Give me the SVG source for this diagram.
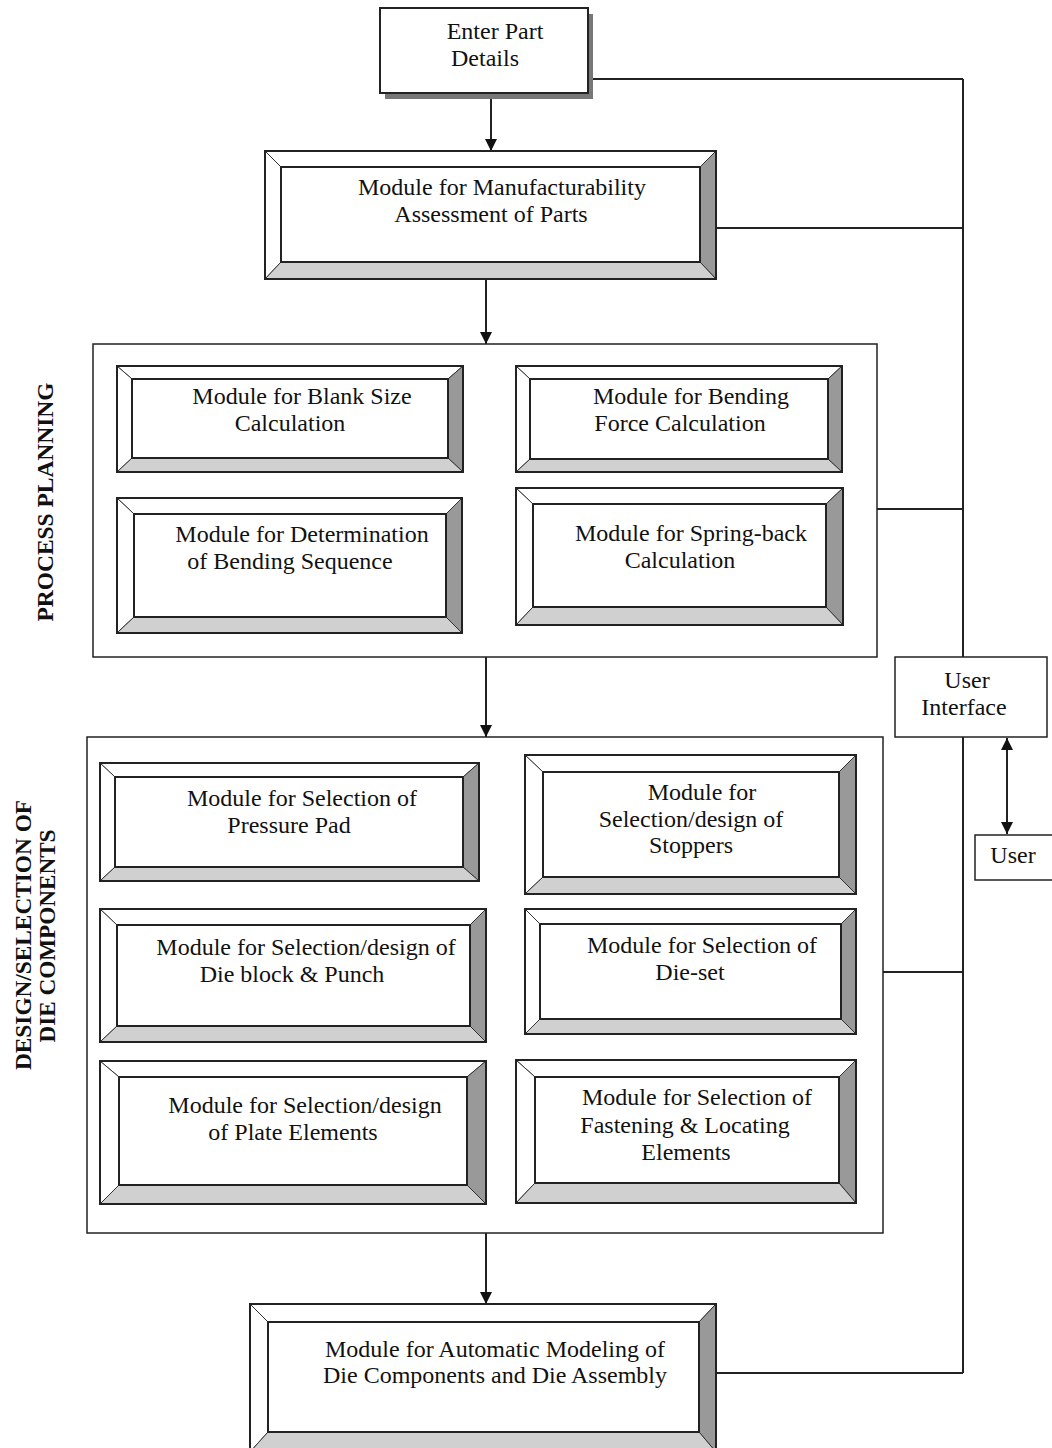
<svg xmlns="http://www.w3.org/2000/svg" width="1052" height="1448" viewBox="0 0 1052 1448">
<style>
.t{font-family:"Liberation Serif","Times New Roman",serif;font-size:24px;fill:#111;text-anchor:middle}
.v{font-family:"Liberation Serif","Times New Roman",serif;font-size:24px;font-weight:bold;fill:#111;text-anchor:middle}
.bt{fill:#fff;stroke:#333;stroke-width:1}
.br{fill:#999;stroke:#333;stroke-width:1}
.bb{fill:#d0d0d0;stroke:#333;stroke-width:1}
.ob{fill:none;stroke:#222;stroke-width:2}
.ib{fill:#fff;stroke:#222;stroke-width:2}
.box{fill:#fff;stroke:#222;stroke-width:1.5}
.ln{fill:none;stroke:#222;stroke-width:2}
</style>
<defs>
<marker id="ah" viewBox="0 0 12 12" refX="12" refY="6" markerWidth="12" markerHeight="12" markerUnits="userSpaceOnUse" orient="auto-start-reverse">
<path d="M0,0 L12,6 L0,12 z" fill="#111"/>
</marker>
</defs>
<rect width="1052" height="1448" fill="#fff"/>

<g id="connectors">
<line class="ln" x1="491" y1="98" x2="491" y2="151" marker-end="url(#ah)"/>
<line class="ln" x1="486" y1="279" x2="486" y2="344" marker-end="url(#ah)"/>
<line class="ln" x1="486" y1="657" x2="486" y2="737" marker-end="url(#ah)"/>
<line class="ln" x1="486" y1="1233" x2="486" y2="1304" marker-end="url(#ah)"/>
<line class="ln" x1="963" y1="79" x2="963" y2="657"/>
<line class="ln" x1="963" y1="737" x2="963" y2="1373"/>
<line class="ln" x1="588" y1="79" x2="963" y2="79"/>
<line class="ln" x1="716" y1="228" x2="963" y2="228"/>
<line class="ln" x1="877" y1="509" x2="963" y2="509"/>
<line class="ln" x1="883" y1="972" x2="963" y2="972"/>
<line class="ln" x1="716" y1="1373" x2="963" y2="1373"/>
<line class="ln" x1="1007" y1="738" x2="1007" y2="834" marker-start="url(#ah)" marker-end="url(#ah)"/>
</g>

<g id="enter-part">
<rect x="385" y="14" width="208" height="85" fill="#777"/>
<rect x="380" y="8" width="208" height="85" fill="#fff" stroke="#222" stroke-width="2"/>
<text class="t" x="495" y="39">Enter Part</text>
<text class="t" x="485" y="66">Details</text>
</g>

<g id="manufacturability">
<polygon class="bt" points="265,151 716,151 700,167 281,167"/>
<polygon class="bt" points="265,151 281,167 281,262 265,279"/>
<polygon class="br" points="716,151 716,279 700,262 700,167"/>
<polygon class="bb" points="265,279 281,262 700,262 716,279"/>
<rect class="ib" x="281" y="167" width="419" height="95"/>
<rect class="ob" x="265" y="151" width="451" height="128"/>
<text class="t" x="502" y="195">Module for Manufacturability</text>
<text class="t" x="491" y="222">Assessment  of Parts</text>
</g>

<g id="process-planning">
<rect class="box" x="93" y="344" width="784" height="313"/>
<text class="v" transform="translate(53,502) rotate(-90)" textLength="239" lengthAdjust="spacingAndGlyphs">PROCESS PLANNING</text>
</g>

<g id="blank-size">
<polygon class="bt" points="117,366 463,366 448,379 132,379"/>
<polygon class="bt" points="117,366 132,379 132,458 117,472"/>
<polygon class="br" points="463,366 463,472 448,458 448,379"/>
<polygon class="bb" points="117,472 132,458 448,458 463,472"/>
<rect class="ib" x="132" y="379" width="316" height="79"/>
<rect class="ob" x="117" y="366" width="346" height="106"/>
<text class="t" x="302" y="404">Module for Blank Size</text>
<text class="t" x="290" y="431">Calculation</text>
</g>

<g id="bending-force">
<polygon class="bt" points="516,366 842,366 828,379 530,379"/>
<polygon class="bt" points="516,366 530,379 530,459 516,472"/>
<polygon class="br" points="842,366 842,472 828,459 828,379"/>
<polygon class="bb" points="516,472 530,459 828,459 842,472"/>
<rect class="ib" x="530" y="379" width="298" height="80"/>
<rect class="ob" x="516" y="366" width="326" height="106"/>
<text class="t" x="691" y="404">Module for Bending</text>
<text class="t" x="680" y="431">Force Calculation</text>
</g>

<g id="bending-sequence">
<polygon class="bt" points="117,498 462,498 446,514 134,514"/>
<polygon class="bt" points="117,498 134,514 134,617 117,633"/>
<polygon class="br" points="462,498 462,633 446,617 446,514"/>
<polygon class="bb" points="117,633 134,617 446,617 462,633"/>
<rect class="ib" x="134" y="514" width="312" height="103"/>
<rect class="ob" x="117" y="498" width="345" height="135"/>
<text class="t" x="302" y="542">Module for Determination</text>
<text class="t" x="290" y="569">of Bending Sequence</text>
</g>

<g id="spring-back">
<polygon class="bt" points="516,488 843,488 826,504 533,504"/>
<polygon class="bt" points="516,488 533,504 533,607 516,625"/>
<polygon class="br" points="843,488 843,625 826,607 826,504"/>
<polygon class="bb" points="516,625 533,607 826,607 843,625"/>
<rect class="ib" x="533" y="504" width="293" height="103"/>
<rect class="ob" x="516" y="488" width="327" height="137"/>
<text class="t" x="691" y="541">Module for Spring-back</text>
<text class="t" x="680" y="568">Calculation</text>
</g>

<g id="design-selection">
<rect class="box" x="87" y="737" width="796" height="496"/>
<text class="v" transform="translate(31,935) rotate(-90)" textLength="270" lengthAdjust="spacingAndGlyphs">DESIGN/SELECTION OF</text>
<text class="v" transform="translate(55,936) rotate(-90)" textLength="213" lengthAdjust="spacingAndGlyphs">DIE COMPONENTS</text>
</g>

<g id="pressure-pad">
<polygon class="bt" points="100,763 479,763 463,777 115,777"/>
<polygon class="bt" points="100,763 115,777 115,867 100,881"/>
<polygon class="br" points="479,763 479,881 463,867 463,777"/>
<polygon class="bb" points="100,881 115,867 463,867 479,881"/>
<rect class="ib" x="115" y="777" width="348" height="90"/>
<rect class="ob" x="100" y="763" width="379" height="118"/>
<text class="t" x="302" y="806">Module for Selection of</text>
<text class="t" x="289" y="833">Pressure Pad</text>
</g>

<g id="stoppers">
<polygon class="bt" points="525,755 856,755 839,772 543,772"/>
<polygon class="bt" points="525,755 543,772 543,877 525,894"/>
<polygon class="br" points="856,755 856,894 839,877 839,772"/>
<polygon class="bb" points="525,894 543,877 839,877 856,894"/>
<rect class="ib" x="543" y="772" width="296" height="105"/>
<rect class="ob" x="525" y="755" width="331" height="139"/>
<text class="t" x="702" y="800">Module for</text>
<text class="t" x="691" y="827">Selection/design of</text>
<text class="t" x="691" y="853">Stoppers</text>
</g>

<g id="die-block">
<polygon class="bt" points="100,909 486,909 470,925 117,925"/>
<polygon class="bt" points="100,909 117,925 117,1026 100,1042"/>
<polygon class="br" points="486,909 486,1042 470,1026 470,925"/>
<polygon class="bb" points="100,1042 117,1026 470,1026 486,1042"/>
<rect class="ib" x="117" y="925" width="353" height="101"/>
<rect class="ob" x="100" y="909" width="386" height="133"/>
<text class="t" x="306" y="955">Module for Selection/design of</text>
<text class="t" x="292" y="982">Die block &amp; Punch</text>
</g>

<g id="die-set">
<polygon class="bt" points="525,909 856,909 841,924 540,924"/>
<polygon class="bt" points="525,909 540,924 540,1019 525,1034"/>
<polygon class="br" points="856,909 856,1034 841,1019 841,924"/>
<polygon class="bb" points="525,1034 540,1019 841,1019 856,1034"/>
<rect class="ib" x="540" y="924" width="301" height="95"/>
<rect class="ob" x="525" y="909" width="331" height="125"/>
<text class="t" x="702" y="953">Module for Selection of</text>
<text class="t" x="690" y="980">Die-set</text>
</g>

<g id="plate-elements">
<polygon class="bt" points="100,1061 486,1061 467,1077 119,1077"/>
<polygon class="bt" points="100,1061 119,1077 119,1185 100,1204"/>
<polygon class="br" points="486,1061 486,1204 467,1185 467,1077"/>
<polygon class="bb" points="100,1204 119,1185 467,1185 486,1204"/>
<rect class="ib" x="119" y="1077" width="348" height="108"/>
<rect class="ob" x="100" y="1061" width="386" height="143"/>
<text class="t" x="305" y="1113">Module for Selection/design</text>
<text class="t" x="293" y="1140">of Plate Elements</text>
</g>

<g id="fastening">
<polygon class="bt" points="516,1060 856,1060 839,1077 535,1077"/>
<polygon class="bt" points="516,1060 535,1077 535,1183 516,1203"/>
<polygon class="br" points="856,1060 856,1203 839,1183 839,1077"/>
<polygon class="bb" points="516,1203 535,1183 839,1183 856,1203"/>
<rect class="ib" x="535" y="1077" width="304" height="106"/>
<rect class="ob" x="516" y="1060" width="340" height="143"/>
<text class="t" x="697" y="1105">Module for Selection of</text>
<text class="t" x="685" y="1133">Fastening &amp; Locating</text>
<text class="t" x="686" y="1160">Elements</text>
</g>

<g id="automatic-modeling">
<polygon class="bt" points="250,1304 716,1304 699,1322 268,1322"/>
<polygon class="bt" points="250,1304 268,1322 268,1432 250,1452"/>
<polygon class="br" points="716,1304 716,1452 699,1432 699,1322"/>
<polygon class="bb" points="250,1452 268,1432 699,1432 716,1452"/>
<rect class="ib" x="268" y="1322" width="431" height="110"/>
<rect class="ob" x="250" y="1304" width="466" height="148"/>
<text class="t" x="495" y="1357">Module for Automatic Modeling of</text>
<text class="t" x="495" y="1383">Die Components and Die Assembly</text>
</g>

<g id="user-interface">
<rect class="box" x="895" y="657" width="152" height="80"/>
<text class="t" x="967" y="688">User</text>
<text class="t" x="964" y="715">Interface</text>
</g>

<g id="user">
<rect class="box" x="975" y="835" width="82" height="45"/>
<text class="t" x="1013" y="863">User</text>
</g>
</svg>
